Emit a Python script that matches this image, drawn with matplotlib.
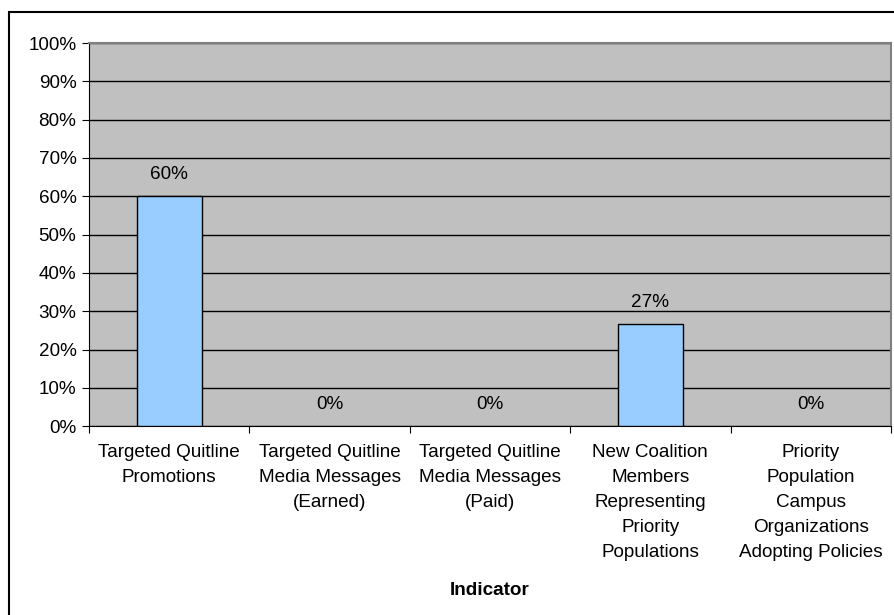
import matplotlib
matplotlib.use("Agg")
import matplotlib.pyplot as plt
from matplotlib.patches import Rectangle
from matplotlib.ticker import FixedLocator, PercentFormatter

plt.rcParams["font.family"] = ["Liberation Sans", "DejaVu Sans"]

categories = [
    "Targeted Quitline\nPromotions",
    "Targeted Quitline\nMedia Messages\n(Earned)",
    "Targeted Quitline\nMedia Messages\n(Paid)",
    "New Coalition\nMembers\nRepresenting\nPriority\nPopulations",
    "Priority\nPopulation\nCampus\nOrganizations\nAdopting Policies",
]
values = [0.60, 0.0, 0.0, 0.266, 0.0]
bar_labels = ["60%", "0%", "0%", "27%", "0%"]

FS = 13.6

fig = plt.figure(figsize=(8.95, 6.15), dpi=100)
ax = fig.add_axes([0.0994, 0.307, 0.8961, 0.623])
ax.set_facecolor("#C0C0C0")

x = list(range(len(categories)))
lws = [1 if v > 0 else 0 for v in values]
ax.bar(x, values, width=0.405, color="#99CCFF", edgecolor="black", linewidth=lws, zorder=3)

for xi, v, lab in zip(x, values, bar_labels):
    ax.annotate(lab, (xi, v), xytext=(0, 15.5), textcoords="offset points",
                ha="center", va="center", fontsize=FS, zorder=4)

ax.set_ylim(0, 1)
ax.set_xlim(-0.5, len(categories) - 0.5)
ax.set_yticks([i / 10 for i in range(11)])
ax.yaxis.set_major_formatter(PercentFormatter(1.0, decimals=0))
ax.grid(axis="y", color="black", linewidth=1, zorder=1)

# ticks sit at category boundaries, labels centred under bars
ax.xaxis.set_major_locator(FixedLocator([i - 0.5 for i in range(len(categories) + 1)]))
ax.xaxis.set_ticklabels([])
ax.xaxis.set_minor_locator(FixedLocator(x))
ax.xaxis.set_ticklabels(categories, minor=True, fontsize=FS, linespacing=1.62)
ax.tick_params(axis="x", which="minor", length=0, pad=13)
ax.tick_params(axis="x", which="major", length=5, color="black", direction="out")
ax.tick_params(axis="y", length=5, labelsize=FS, direction="out", pad=4)

for side in ["top", "right"]:
    ax.spines[side].set_color("#808080")
    ax.spines[side].set_linewidth(1.5)
ax.spines["left"].set_color("black")
ax.spines["bottom"].set_color("black")

ax.set_xlabel("Indicator", fontsize=FS, fontweight="bold", labelpad=15)

# chart border runs off the right and bottom edges
fig.patches.append(Rectangle((0.0105, -0.05), 1.1, 0.05 + 0.9805, transform=fig.transFigure,
                             fill=False, edgecolor="black", linewidth=1.5))

plt.savefig("out.png", dpi=100)
